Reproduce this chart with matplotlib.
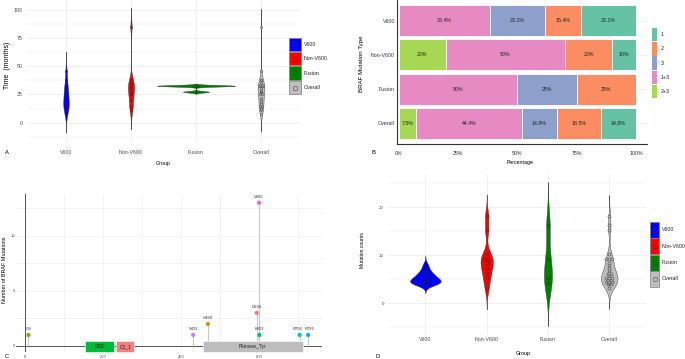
import numpy as np
import matplotlib

matplotlib.use("Agg")

import matplotlib.pyplot as plt
from matplotlib.lines import Line2D
from matplotlib.patches import Rectangle

plt.rcParams["font.family"] = ["Liberation Sans", "DejaVu Sans"]

FIG_W, FIG_H = 685, 359

GROUPS = ["V600", "Non-V600", "Fusion", "Overall"]
GROUP_COLORS = ["#0000FF", "#FF0000", "#008000", "#BEBEBE"]

# Panel A: follow-up time (months) per patient
time_v600 = [8, 12, 14, 15, 17, 18, 22, 25, 27, 29, 33, 38, 46]
time_non_v600 = [11, 15, 20, 25, 28, 30.5, 33, 35, 37.8, 85]
time_fusion = [27.4, 32.7, 32.7, 32.7]

# Panel B: share of BRAF mutation type per group (%)
b_groups = ["V600", "Non-V600", "Fusion", "Overall"]
b_types = ["1", "2", "3", "1+3", "2+3"]
b_type_colors = ["#66C2A5", "#FC8D62", "#8DA0CB", "#E78AC3", "#A6D854"]
pct_type_1 = [23.1, 10, 0, 14.8]
pct_type_2 = [15.4, 20, 25, 18.5]
pct_type_3 = [23.1, 0, 25, 14.8]
pct_type_13 = [38.4, 50, 50, 44.4]
pct_type_23 = [0, 20, 0, 7.5]

# Panel C: lollipop of BRAF mutations
mut_labels = ["G9", "S431", "G469", "D594", "V600", "K601", "R704", "R726"]
mut_pos = [9, 431, 469, 594, 600, 601, 704, 726]
mut_counts = [1, 1, 2, 3, 13, 1, 1, 1]
mut_colors = ["#7CAE00", "#C77CFF", "#CD9600", "#F8766D", "#FF61CC", "#00BE67", "#00BFC4", "#00A9FF"]
domain_names = ["RBD", "C1_1", "Pkinase_Tyr"]
domain_start = [155, 234, 457]
domain_end = [227, 280, 712]
domain_colors = ["#00BA38", "#F08080", "#BEBEBE"]

# Panel D: mutation counts per patient
count_v600 = [4.0, 4.0, 4.3, 4.3, 4.3, 4.9, 4.9, 5.3, 5.3, 6.1, 6.1, 6.9, 7.9]
count_non_v600 = [3.1, 5.2, 6.2, 7.3, 8.3, 9.2, 9.2, 10.2, 15.2, 18.2]
count_fusion = [4.2, 5.3, 9.2, 16.2]

TICK_COLOR = "#4D4D4D"


def fx(x):
    return x / FIG_W


def fy(y):
    return 1 - y / FIG_H


def add_axes_px(fig, left, top, right, bottom):
    return fig.add_axes([fx(left), fy(bottom), (right - left) / FIG_W, (bottom - top) / FIG_H])


def nrd0(x):
    sd = np.std(x, ddof=1)
    q75, q25 = np.percentile(x, [75, 25])
    lo = min(sd, (q75 - q25) / 1.34)
    if lo <= 0:
        lo = sd if sd > 0 else 1.0
    return 0.9 * lo * len(x) ** -0.2


def violin_stats(sample):
    x = np.asarray(sample, dtype=float)
    bw = nrd0(x)
    coords = np.linspace(x.min() - 3 * bw, x.max() + 3 * bw, 512)
    kern = np.exp(-0.5 * ((coords[:, None] - x[None, :]) / bw) ** 2)
    vals = kern.sum(axis=1) / (len(x) * bw * np.sqrt(2 * np.pi))
    return dict(coords=coords, vals=vals, mean=x.mean(), median=np.median(x), min=x.min(), max=x.max())


def style_minimal(ax, fontsize=3.8):
    for spine in ax.spines.values():
        spine.set_visible(False)
    ax.tick_params(which="both", length=0, labelsize=fontsize, labelcolor=TICK_COLOR)
    ax.grid(True, which="major", color="#EBEBEB", linewidth=0.5)
    ax.grid(True, which="minor", axis="y", color="#F2F2F2", linewidth=0.35)
    ax.set_axisbelow(True)


def draw_violin_panel(ax, samples, widths, dot_w, dot_size):
    stats = [violin_stats(s) for s in samples]
    positions = np.arange(len(samples))
    parts = ax.violin(stats, positions=positions, widths=widths, showextrema=False)
    for body, color in zip(parts["bodies"], GROUP_COLORS):
        body.set_facecolor(color)
        body.set_edgecolor("#333333")
        body.set_linewidth(0.3)
        body.set_alpha(1)
        body.set_zorder(2)
    for i, sample in enumerate(samples):
        vals, counts = np.unique(np.round(sample, 1), return_counts=True)
        for v, c in zip(vals, counts):
            xs = i + (np.arange(c) - (c - 1) / 2) * dot_w
            ax.plot(xs, np.full(c, v), ls="none", marker="o", ms=dot_size,
                    mfc=GROUP_COLORS[i], mec="#222222", mew=0.3, zorder=3)
    ax.set_xticks(positions, GROUPS)


def draw_key_legend(fig, x, top, step, key_w, key_h, labels, colors, with_dot, fontsize=3.8):
    for i, (label, color) in enumerate(zip(labels, colors)):
        y0 = top + i * step
        edge = "#7F7F7F" if with_dot else "none"
        fig.add_artist(Rectangle((fx(x), fy(y0 + key_h)), key_w / FIG_W, key_h / FIG_H,
                                 transform=fig.transFigure, facecolor=color,
                                 edgecolor=edge, linewidth=0.5))
        if with_dot:
            fig.add_artist(Line2D([fx(x + key_w / 2)], [fy(y0 + key_h / 2)], transform=fig.transFigure,
                                  marker="o", ms=3.2, mfc="none", mec="#333333", mew=0.35, ls="none"))
        fig.text(fx(x + key_w + 3), fy(y0 + key_h / 2), label, fontsize=fontsize,
                 va="center", ha="left", color="#222222")


def plot_panel_a(fig):
    ax = add_axes_px(fig, 27, 0, 300, 141.5)
    samples = [time_v600, time_non_v600, time_fusion, time_v600 + time_non_v600 + time_fusion]
    draw_violin_panel(ax, samples, widths=[0.085, 0.095, 1.2, 0.105], dot_w=0.038, dot_size=1.5)
    ax.set_xlim(-0.6, 3.6)
    ax.set_ylim(-16.6, 108.6)
    ax.set_yticks([0, 25, 50, 75, 100])
    ax.set_yticks(np.arange(-12.5, 110, 25), minor=True)
    style_minimal(ax)
    ax.tick_params(axis="x", pad=6)
    ax.tick_params(axis="y", pad=3)
    fig.text(fx(8), fy(65), "Time  (months)", rotation=90, fontsize=5, va="center", ha="center")
    fig.text(fx(163), fy(163), "Group", fontsize=3.8, va="center", ha="center")
    fig.text(fx(5), fy(153), "A", fontsize=4.2, va="center", ha="left")
    draw_key_legend(fig, 289, 37.7, 14.4, 11.7, 13.3, GROUPS, GROUP_COLORS, True)


def plot_panel_b(fig):
    ax = add_axes_px(fig, 397, 0, 647, 144)
    pct = {"1": pct_type_1, "2": pct_type_2, "3": pct_type_3, "1+3": pct_type_13, "2+3": pct_type_23}
    color_of = dict(zip(b_types, b_type_colors))
    y = np.arange(len(b_groups))
    left = np.zeros(len(b_groups))
    for t in reversed(b_types):
        vals = np.asarray(pct[t], dtype=float)
        ax.barh(y, vals, left=left, height=0.9, color=color_of[t], edgecolor="white", linewidth=0.6, zorder=2)
        for yi, v, l in zip(y, vals, left):
            if v > 0:
                ax.text(l + v / 2, yi, f"{v:g}%", fontsize=3.8, ha="center", va="center", color="#222222", zorder=3)
        left += vals
    ax.set_xlim(-0.7, 104.6)
    ax.set_ylim(3.6, -0.6)
    ax.set_yticks(y, b_groups)
    ticks = [0, 25, 50, 75, 100]
    ax.set_xticks(ticks, [f"{t}%" for t in ticks])
    for side in ["top", "right"]:
        ax.spines[side].set_visible(False)
    for side in ["left", "bottom"]:
        ax.spines[side].set_color("#333333")
        ax.spines[side].set_linewidth(0.8)
    ax.tick_params(length=0, labelsize=3.8, labelcolor="#333333")
    ax.tick_params(axis="x", pad=5)
    ax.tick_params(axis="y", pad=1.5)
    ax.grid(True, axis="y", color="#EBEBEB", linewidth=0.5)
    ax.set_axisbelow(True)
    fig.text(fx(362), fy(64), "BRAF Mutation Type", rotation=90, fontsize=4.4, va="center", ha="center")
    fig.text(fx(520), fy(162), "Percentage", fontsize=3.8, va="center", ha="center")
    fig.text(fx(372), fy(153), "B", fontsize=4.2, va="center", ha="left")
    draw_key_legend(fig, 651.7, 28, 14.2, 5.7, 13.3, b_types, b_type_colors, False)


def plot_panel_c(fig):
    ax = add_axes_px(fig, 16, 194, 322, 352)
    ax.set_xlim(-23, 761.5)
    ax.set_ylim(-0.55, 13.8)
    ax.set_xticks([0, 200, 400, 600])
    ax.set_xticks([100, 300, 500, 700], minor=True)
    ax.set_yticks([0, 5, 10])
    ax.set_yticks([2.5, 7.5, 12.5], minor=True)
    for spine in ax.spines.values():
        spine.set_visible(False)
    ax.tick_params(which="both", length=0, labelsize=3, labelcolor=TICK_COLOR)
    ax.tick_params(axis="x", pad=2.5)
    ax.tick_params(axis="y", pad=0.5)
    ax.grid(True, which="both", color="#EFEFEF", linewidth=0.45)
    ax.set_axisbelow(True)
    ax.axhline(0, color="#555555", linewidth=0.7, zorder=1)
    ax.axvline(0, color="#555555", linewidth=0.7, zorder=1)
    ax.vlines(mut_pos, 0, mut_counts, color="#C8C8C8", linewidth=0.8, zorder=2)
    starts = np.asarray(domain_start)
    ends = np.asarray(domain_end)
    ax.barh(np.full(len(starts), -0.05), ends - starts, left=starts, height=1.0,
            color=domain_colors, edgecolor="white", linewidth=0.4, zorder=3, clip_on=False)
    for name, s, e in zip(domain_names, starts, ends):
        ax.text((s + e) / 2, -0.05, name, fontsize=3.6, ha="center", va="center", color="#222222", zorder=4)
    ax.scatter(mut_pos, mut_counts, s=9, c=mut_colors, zorder=5, linewidths=0)
    # labels of neighbouring sites at the same height are nudged apart a little
    for k, (label, p, c) in enumerate(zip(mut_labels, mut_pos, mut_counts)):
        nudge = 0.0
        if k + 1 < len(mut_pos) and mut_counts[k + 1] == c and mut_pos[k + 1] - p < 40:
            nudge = -1.2
        elif k > 0 and mut_counts[k - 1] == c and p - mut_pos[k - 1] < 40:
            nudge = 1.2
        ax.annotate(label, (p, c + 0.5), xytext=(nudge, 0), textcoords="offset points",
                    fontsize=3.0, ha="center", va="center", color="#333333", zorder=5)
    fig.text(fx(5), fy(270), "Number of BRAF Mutations", rotation=90, fontsize=3.9, va="center", ha="center")
    fig.text(fx(5), fy(356.5), "C", fontsize=4.2, va="center", ha="left")


def plot_panel_d(fig):
    ax = add_axes_px(fig, 388, 174, 646, 335)
    samples = [count_v600, count_non_v600, count_fusion, count_v600 + count_non_v600 + count_fusion]
    draw_violin_panel(ax, samples, widths=[0.50, 0.20, 0.13, 0.27], dot_w=0.05, dot_size=2.2)
    ax.set_xlim(-0.61, 3.6)
    ax.set_ylim(-6.67, 26.9)
    ax.set_yticks([0, 10, 20])
    ax.set_yticks([-5, 5, 15, 25], minor=True)
    style_minimal(ax)
    ax.tick_params(axis="x", pad=1.5)
    ax.tick_params(axis="y", pad=3, labelsize=3.2)
    fig.text(fx(363), fy(250), "Mutation counts", rotation=90, fontsize=3.6, va="center", ha="center")
    fig.text(fx(523), fy(354), "Group", fontsize=3.9, va="center", ha="center")
    fig.text(fx(375), fy(356.5), "D", fontsize=4.2, va="center", ha="left")
    draw_key_legend(fig, 650, 221.7, 16.4, 9, 16, GROUPS, GROUP_COLORS, True)


def main():
    fig = plt.figure(figsize=(FIG_W / 100, FIG_H / 100), dpi=100)
    fig.patch.set_facecolor("white")
    plot_panel_a(fig)
    plot_panel_b(fig)
    plot_panel_c(fig)
    plot_panel_d(fig)
    fig.savefig("out.png", dpi=100)
    plt.close(fig)


if __name__ == "__main__":
    main()
